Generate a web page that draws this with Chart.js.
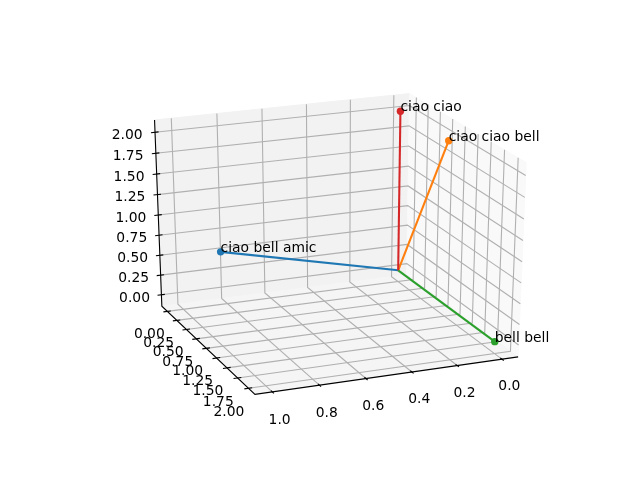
<!DOCTYPE html>
<html>
<head>
<meta charset="utf-8">
<style>
  html, body { margin: 0; padding: 0; background: #fff; }
  canvas { display: block; }
</style>
<script src="https://cdn.jsdelivr.net/npm/chart.js@4"></script>
</head>
<body>
<canvas id="myChart" width="640" height="480"></canvas>
<script>
const labels = ["ciao bell amic", "ciao ciao bell", "bell bell", "ciao ciao"];
const xValues = [1, 0, 0, 0];
const yValues = [1, 1, 2, 0];
const zValues = [1, 2, 0, 2];
const colors = ["#1f77b4", "#ff7f0e", "#2ca02c", "#d62728"];

const xTicks = [0, 0.2, 0.4, 0.6, 0.8, 1];
const xTickLabels = ["0.0", "0.2", "0.4", "0.6", "0.8", "1.0"];
const yTicks = [0, 0.25, 0.5, 0.75, 1, 1.25, 1.5, 1.75, 2];
const yTickLabels = ["0.00", "0.25", "0.50", "0.75", "1.00", "1.25", "1.50", "1.75", "2.00"];
const zTicks = [0, 0.25, 0.5, 0.75, 1, 1.25, 1.5, 1.75, 2];
const zTickLabels = ["0.00", "0.25", "0.50", "0.75", "1.00", "1.25", "1.50", "1.75", "2.00"];

const xLim = [-0.05, 1.05];
const yLim = [-0.1, 2.1];
const zLim = [-0.1, 2.1];

// camera, same idea as mplot3d
const elev = 24;
const azim = 68;
const dist = 10;

const lo = -1 / 48;
const hi = 49 / 48;
const tickOut = 0.016;
const tickIn = 0.014;

const font = "13.89px 'DejaVu Sans'";

const sinA = Math.sin(azim * Math.PI / 180);
const cosA = Math.cos(azim * Math.PI / 180);
const sinE = Math.sin(elev * Math.PI / 180);
const cosE = Math.cos(elev * Math.PI / 180);
const n = [cosA * cosE, sinA * cosE, sinE];
const u = [-sinA, cosA, 0];
const v = [-sinE * cosA, -sinE * sinA, cosE];

const normX = (val) => (val - xLim[0]) / (xLim[1] - xLim[0]);
const normY = (val) => (val - yLim[0]) / (yLim[1] - yLim[0]);
const normZ = (val) => (val - zLim[0]) / (zLim[1] - zLim[0]);

// box coords (0..1) to the 2d plane of the hidden scales
function project(p) {
  const d = [p[0] - 0.5, p[1] - 0.5, p[2] - 0.5];
  const dot = (a) => a[0] * d[0] + a[1] * d[1] + a[2] * d[2];
  const w = dist - dot(n);
  return { x: dot(u) / w, y: dot(v) / w };
}

const datasets = [];

// chart.js paints low order on top, so every new path gets a lower order
function addPath(points, color, width, extra) {
  datasets.push(Object.assign({
    data: points.map(project),
    borderColor: color,
    borderWidth: width,
    pointRadius: 0,
    showLine: true,
    fill: false,
    tension: 0,
    clip: false,
    order: -datasets.length,
  }, extra));
}

// panes
addPath([[lo, lo, lo], [lo, lo, hi], [hi, lo, hi], [hi, lo, lo], [lo, lo, lo]], "#f2f2f2", 1, { fill: "shape", backgroundColor: "#f2f2f2" });
addPath([[lo, lo, lo], [lo, lo, hi], [lo, hi, hi], [lo, hi, lo], [lo, lo, lo]], "#f9f9f9", 1, { fill: "shape", backgroundColor: "#f9f9f9" });
addPath([[lo, lo, lo], [hi, lo, lo], [hi, hi, lo], [lo, hi, lo], [lo, lo, lo]], "#f5f5f5", 1, { fill: "shape", backgroundColor: "#f5f5f5" });

// grid
const gridColor = "#b0b0b0";
xTicks.forEach((t) => {
  const a = normX(t);
  addPath([[a, hi, lo], [a, lo, lo], [a, lo, hi]], gridColor, 1.1);
});
yTicks.forEach((t) => {
  const a = normY(t);
  addPath([[hi, a, lo], [lo, a, lo], [lo, a, hi]], gridColor, 1.1);
});
zTicks.forEach((t) => {
  const a = normZ(t);
  addPath([[hi, lo, a], [lo, lo, a], [lo, hi, a]], gridColor, 1.1);
});

// axis lines and ticks
addPath([[hi, lo, hi], [hi, lo, lo], [hi, hi, lo], [lo, hi, lo]], "#000", 1.1);
xTicks.forEach((t) => {
  const a = normX(t);
  addPath([[a, hi - tickIn, lo], [a, hi + tickOut, lo]], "#000", 1.1);
});
yTicks.forEach((t) => {
  const a = normY(t);
  addPath([[hi - tickIn, a, lo], [hi + tickOut, a, lo]], "#000", 1.1);
});
zTicks.forEach((t) => {
  const a = normZ(t);
  addPath([[hi - tickIn, lo, a], [hi + tickOut, lo, a]], "#000", 1.1);
});

// the four vectors, each from the origin
labels.forEach((name, i) => {
  const start = [normX(0), normY(0), normZ(0)];
  const end = [normX(xValues[i]), normY(yValues[i]), normZ(zValues[i])];
  addPath([start, end], colors[i], 2.08, {
    pointRadius: [0, 3.7],
    pointBackgroundColor: colors[i],
    pointBorderWidth: 0,
  });
});

const textPlugin = {
  id: "textPlugin",
  afterDatasetsDraw(chart) {
    const ctx = chart.ctx;
    const sx = chart.scales.x;
    const sy = chart.scales.y;
    const put = (p, text, align, baseline) => {
      const q = project(p);
      ctx.textAlign = align;
      ctx.textBaseline = baseline;
      ctx.fillText(text, sx.getPixelForValue(q.x), sy.getPixelForValue(q.y));
    };
    ctx.save();
    ctx.font = font;
    ctx.fillStyle = "#000";
    xTicks.forEach((t, i) => put([normX(t), hi + 0.071, lo - 0.118], xTickLabels[i], "center", "middle"));
    yTicks.forEach((t, i) => put([hi + 0.077, normY(t), lo - 0.118], yTickLabels[i], "center", "middle"));
    zTicks.forEach((t, i) => put([hi + 0.11, lo, normZ(t)], zTickLabels[i], "center", "middle"));
    labels.forEach((name, i) => {
      put([normX(xValues[i]), normY(yValues[i]), normZ(zValues[i])], name, "left", "alphabetic");
    });
    ctx.restore();
  },
};

new Chart(document.getElementById("myChart"), {
  type: "scatter",
  data: { datasets: datasets },
  options: {
    responsive: false,
    animation: false,
    layout: { padding: { left: 80.7, right: 63.3, top: 58, bottom: 52.4 } },
    plugins: { legend: { display: false }, tooltip: { enabled: false } },
    scales: {
      x: { type: "linear", display: false, min: -0.095, max: 0.09 },
      y: { type: "linear", display: false, min: -0.095, max: 0.09 },
    },
  },
  plugins: [textPlugin],
});
</script>
</body>
</html>
